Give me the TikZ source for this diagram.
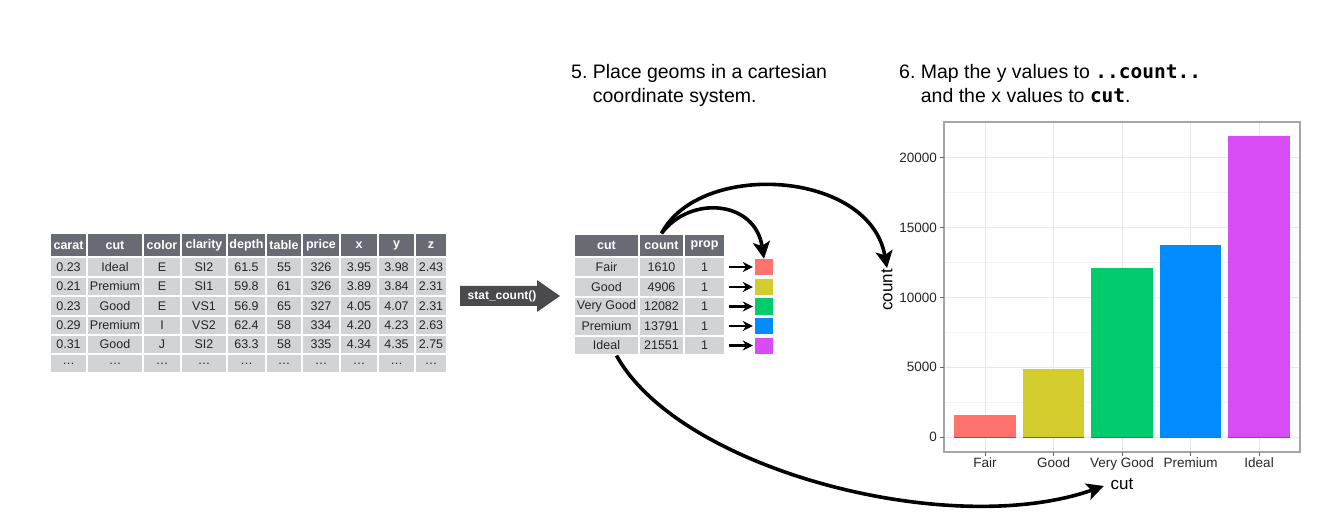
\documentclass[tikz,border=0pt]{standalone}
\usepackage{fontspec}
\setmainfont{Liberation Sans}
\newfontfamily\codefont{DejaVu Sans Mono}
\usetikzlibrary{arrows.meta}

\definecolor{headgray}{RGB}{104,107,115}
\definecolor{cellgray}{RGB}{210,211,213}
\definecolor{statgray}{RGB}{74,74,76}
\definecolor{fairred}{RGB}{255,115,110}
\definecolor{goodolive}{RGB}{210,204,45}
\definecolor{vgoodgreen}{RGB}{0,204,110}
\definecolor{premblue}{RGB}{0,140,255}
\definecolor{idealpink}{RGB}{216,76,245}
\definecolor{gridmajor}{RGB}{232,232,232}
\definecolor{gridminor}{RGB}{244,244,244}

\tikzset{
  cell/.style={draw=white, line width=1.2pt, fill=cellgray, inner sep=0pt,
    text=black!85, font=\fontsize{12.5}{14}\selectfont},
  headcell/.style={cell, fill=headgray, text=white, font=\bfseries\fontsize{12.5}{14}\selectfont},
  title/.style={anchor=base west, inner sep=0pt, font=\fontsize{19.5}{24}\selectfont},
  bigarrow/.style={line width=3.6pt, -{Stealth[length=17pt,width=17pt,inset=4pt]}},
  smallarrow/.style={line width=2.3pt, -{Stealth[length=10pt,width=10pt]}},
  ticklabel/.style={inner sep=1pt, text=black!85, font=\fontsize{13.5}{15}\selectfont},
  axislabel/.style={inner sep=1pt, font=\fontsize{17}{18}\selectfont},
}

\begin{document}
\begin{tikzpicture}[x=1pt, y=-1pt]
\useasboundingbox (0,0) rectangle (1341,521);

\node[title] (step5) at (571,79) {5.~\begin{tabular}[t]{@{}l@{}}Place geoms in a cartesian\\coordinate system.\end{tabular}};
\node[title] (step6) at (899,79) {6.~\begin{tabular}[t]{@{}l@{}}Map the y values to {\codefont\bfseries ..count..}\\and the x values to {\codefont\bfseries cut}.\end{tabular}};

% data table
\def\dtcols{{50,87,143,181,227,266,302,340,378,415,447}}
\def\dtrows{{233,257,277,296,316,335,354,373}}
\foreach \h [count=\i] in {carat,cut,color,clarity,depth,table,price,x,y,z} {
  \pgfmathsetmacro\xl{\dtcols[\i-1]}
  \pgfmathsetmacro\xr{\dtcols[\i]}
  \node[headcell, minimum width=\xr-\xl, minimum height=24] (dt-0-\i) at ({(\xl+\xr)/2},245) {\h};
}
\foreach \row [count=\j] in {
    {0.23,Ideal,E,SI2,61.5,55,326,3.95,3.98,2.43},
    {0.21,Premium,E,SI1,59.8,61,326,3.89,3.84,2.31},
    {0.23,Good,E,VS1,56.9,65,327,4.05,4.07,2.31},
    {0.29,Premium,I,VS2,62.4,58,334,4.20,4.23,2.63},
    {0.31,Good,J,SI2,63.3,58,335,4.34,4.35,2.75},
    {\ldots,\ldots,\ldots,\ldots,\ldots,\ldots,\ldots,\ldots,\ldots,\ldots}} {
  \pgfmathsetmacro\yt{\dtrows[\j]}
  \pgfmathsetmacro\yb{\dtrows[\j+1]}
  \foreach \v [count=\i] in \row {
    \pgfmathsetmacro\xl{\dtcols[\i-1]}
    \pgfmathsetmacro\xr{\dtcols[\i]}
    \node[cell, minimum width=\xr-\xl, minimum height=\yb-\yt] (dt-\j-\i) at ({(\xl+\xr)/2},{(\yt+\yb)/2}) {\v};
  }
}

\fill[statgray] (460,286) -- (537,286) -- (537,280) -- (560,296) -- (537,312) -- (537,306) -- (460,306) -- cycle;
\node[inner sep=0pt, text=white, font=\bfseries\fontsize{12}{14}\selectfont] (stat) at (502,296) {stat\_count()};

% count table
\def\ctcols{{574,639,684,725}}
\def\ctrows{{234,257,277,297,316,336,355}}
\foreach \h [count=\i] in {cut,count,prop} {
  \pgfmathsetmacro\xl{\ctcols[\i-1]}
  \pgfmathsetmacro\xr{\ctcols[\i]}
  \node[headcell, minimum width=\xr-\xl, minimum height=23] (ct-0-\i) at ({(\xl+\xr)/2},245.5) {\h};
}
\foreach \row/\c [count=\j] in {{Fair,1610,1}/fairred, {Good,4906,1}/goodolive,
    {Very Good,12082,1}/vgoodgreen, {Premium,13791,1}/premblue, {Ideal,21551,1}/idealpink} {
  \pgfmathsetmacro\yt{\ctrows[\j]}
  \pgfmathsetmacro\yb{\ctrows[\j+1]}
  \foreach \v [count=\i] in \row {
    \pgfmathsetmacro\xl{\ctcols[\i-1]}
    \pgfmathsetmacro\xr{\ctcols[\i]}
    \node[cell, minimum width=\xr-\xl, minimum height=\yb-\yt] (ct-\j-\i) at ({(\xl+\xr)/2},{(\yt+\yb)/2}) {\v};
  }
  \node[fill=\c, minimum width=18, minimum height=16, inner sep=0pt] (sq\j) at (764,0 |- ct-\j-3) {};
  \draw[smallarrow, shorten <=3pt, shorten >=2pt] (ct-\j-3.east) -- (sq\j.west);
}

% bar chart, counts in thousands
\fill[white] (944,122) rectangle (1300,452);
\foreach \v in {2.5,7.5,12.5,17.5} \draw[gridminor, line width=0.8pt] (944,{437-\v*13.95}) -- (1300,{437-\v*13.95});
\foreach \v in {0,5,10,15,20} \draw[gridmajor, line width=1pt] (944,{437-\v*13.95}) -- (1300,{437-\v*13.95});
\foreach \i in {1,...,5} \draw[gridmajor, line width=1pt] ({944+(\i-0.4)*68.5},122) -- ({944+(\i-0.4)*68.5},452);
\foreach \n/\c [count=\i] in {1.610/fairred,4.906/goodolive,12.082/vgoodgreen,13.791/premblue,21.551/idealpink} {
  \fill[\c] ({944+(\i-0.4)*68.5-30.8},437) rectangle ({944+(\i-0.4)*68.5+30.8},{437-\n*13.95});
  \draw[black!60, line width=0.8pt] ({944+(\i-0.4)*68.5-30.8},437) -- ({944+(\i-0.4)*68.5+30.8},437);
}
\draw[black!35, line width=1.2pt] (944,122) rectangle (1300,452);
\foreach \v/\t [count=\i] in {0/0,5/5000,10/10000,15/15000,20/20000} {
  \draw[black!60, line width=1pt] (940,{437-\v*13.95}) -- (944,{437-\v*13.95});
  \node[ticklabel, anchor=east] (ytick\i) at (938,{437-\v*13.95}) {\t};
}
\foreach \t [count=\i] in {Fair,Good,Very Good,Premium,Ideal} {
  \draw[black!60, line width=1pt] ({944+(\i-0.4)*68.5},452) -- ({944+(\i-0.4)*68.5},456);
  \node[ticklabel, anchor=north] (xtick\i) at ({944+(\i-0.4)*68.5},457) {\t};
}
\node[axislabel, rotate=90] (ylab) at (887,290) {count};
\node[axislabel] (xlab) at (1122,484) {cut};

% mapping arrows
\draw[bigarrow] (ct-0-2.north) .. controls (700,160) and (870,170) .. (ylab.east);
\draw[bigarrow] (ct-0-2.north) .. controls (690,195) and (755,200) .. (sq1.north);
\draw[bigarrow, shorten >=6pt] ([xshift=10pt]ct-5-1.south) .. controls (680,470) and (950,540) .. (xlab.west);
\end{tikzpicture}
\end{document}
